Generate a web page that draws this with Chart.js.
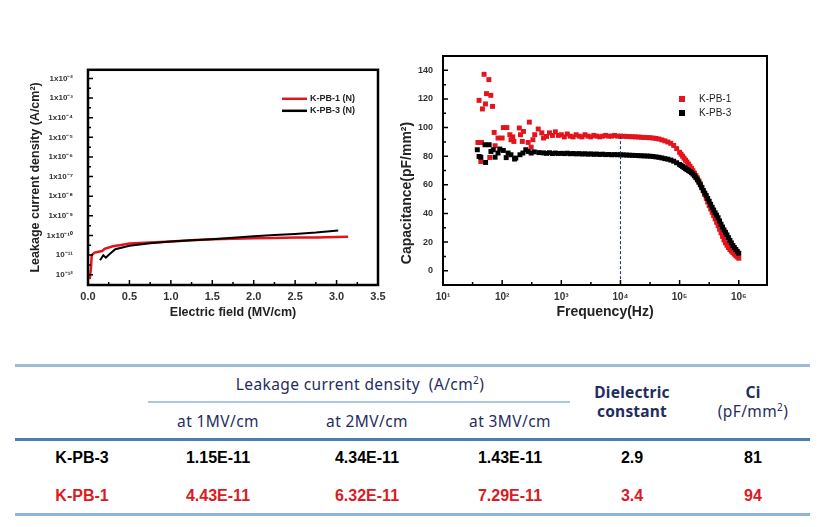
<!DOCTYPE html>
<html>
<head>
<meta charset="utf-8">
<script src="https://cdn.jsdelivr.net/npm/chart.js@4.4.0/dist/chart.umd.min.js"></script>
<style>
  body { margin: 0; background: #fff; width: 826px; height: 527px; position: relative; overflow: hidden; }
  canvas { position: absolute; }
  #leakChart { left: 0; top: 50px; }
  #capChart { left: 395px; top: 40px; }
  .rule { position: absolute; }
  .cell { position: absolute; transform: translate(-50%, -50%); white-space: nowrap; text-align: center; }
  .head { font-family: "Noto Sans", sans-serif; color: #1f2d5e; font-size: 15.5px; line-height: 19px; letter-spacing: 0.4px; }
  .head b { letter-spacing: 0.2px; }
  .val { font-family: Arial, "Liberation Sans", sans-serif; font-weight: bold; font-size: 16px; }
  sup { font-size: 10px; vertical-align: 6px; line-height: 0; }
</style>
</head>
<body>
<canvas id="leakChart" width="395" height="280"></canvas>
<canvas id="capChart" width="400" height="290"></canvas>
<div id="table"></div>
<script>
// ---- leakage current vs electric field ----
const fieldK1 = [0.02, 0.035, 0.045, 0.08, 0.17, 0.2, 0.3, 0.4, 0.5, 0.75, 1.0, 1.25, 1.5, 1.75, 2.0, 2.25, 2.5, 2.75, 3.0, 3.14];
const currentK1 = [6e-13, 2e-12, 1.0e-11, 1.35e-11, 1.6e-11, 2.1e-11, 2.8e-11, 3.3e-11, 3.9e-11, 4.4e-11, 4.9e-11, 5.7e-11, 6.4e-11, 6.9e-11, 7.2e-11, 7.5e-11, 7.8e-11, 8.0e-11, 8.4e-11, 8.7e-11];
const fieldK3 = [0.145, 0.185, 0.215, 0.265, 0.33, 0.5, 0.75, 1.0, 1.25, 1.5, 1.75, 2.0, 2.25, 2.5, 2.75, 3.02];
const currentK3 = [5.5e-12, 9.8e-12, 7.4e-12, 1.17e-11, 2.0e-11, 3.0e-11, 4.0e-11, 4.9e-11, 5.7e-11, 6.5e-11, 7.7e-11, 9.0e-11, 1.05e-10, 1.2e-10, 1.4e-10, 1.78e-10];
const leakTickValues = [1e-2, 1e-3, 1e-4, 1e-5, 1e-6, 1e-7, 1e-8, 1e-9, 1e-10, 1e-11, 1e-12];
const leakTickLabels = ['1x10⁻²', '1x10⁻³', '1x10⁻⁴', '1x10⁻⁵', '1x10⁻⁶', '1x10⁻⁷', '1x10⁻⁸', '1x10⁻⁹', '1x10⁻¹⁰', '10⁻¹¹', '10⁻¹²'];

// ---- capacitance vs frequency ----
const freqLowK1 = [38.9, 40.7, 41.7, 43.6, 44.7, 46.4, 49.5, 52.2, 54.3, 59.6, 61.7, 64.3, 68.7, 73.3, 75.9, 85.1, 100, 104.7, 120, 135, 141, 151, 158, 195, 204, 219, 229, 275, 288, 309, 331, 355, 407, 468];
const capLowK1 = [89.6, 119, 89.6, 76.3, 89.6, 113, 137.2, 116.5, 123.7, 133.5, 79.1, 122.5, 114.8, 96.6, 87.3, 92.7, 92.7, 100, 100, 95, 91.5, 93.5, 90.3, 99.7, 95, 90.3, 97.3, 89.6, 103.8, 86.3, 91.5, 95, 99, 96.3];
const freqLowK3 = [38, 40.7, 43.6, 51.3, 52.5, 60.3, 64.6, 70.8, 75.9, 85.1, 91.2, 104.7, 117, 126, 141, 162, 170, 200, 224, 251, 275, 309, 350, 420];
const capLowK3 = [84.5, 79.8, 79.3, 88, 75.6, 88, 83.3, 84.5, 79.3, 82.2, 85, 84, 79, 82.2, 81, 78, 78.7, 81, 82.2, 84.5, 83.3, 82.2, 83, 82.5];
const freqGrid = [501, 562, 631, 708, 794, 891, 1000, 1122, 1259, 1413, 1585, 1778, 1995, 2239, 2512, 2818, 3162, 3548, 3981, 4467, 5012, 5623, 6310, 7079, 7943, 8913,
  10000, 11220, 12589, 14125, 15849, 17783, 19953, 22387, 25119, 28184, 31623, 35481, 39811, 44668, 50119, 56234, 63096, 70795, 79433, 89125,
  100000, 112202, 125893, 141254, 158489, 177828, 199526, 223872, 251189, 281838, 316228, 354813, 398107, 446684, 501187, 562341, 630957, 707946, 794328, 891251, 1000000];
const capGridK1 = [92.7, 93.8, 96.3, 94.5, 97, 94.5, 95, 93.5, 95.5, 94, 93.5, 95, 94, 93.5, 95, 94, 93.5, 94.5, 94, 93.5, 94, 94.5, 94, 94, 94.5, 94,
  94, 93.9, 93.8, 93.7, 93.6, 93.5, 93.4, 93.2, 93.1, 93, 92.9, 92.7, 92.4, 92, 91.4, 90.7, 89.9, 89, 87.5, 85.3,
  82.7, 80, 77.2, 74.5, 71.5, 68.2, 64.8, 60.7, 55.8, 50.5, 45.5, 40.8, 36.2, 31.5, 26.5, 21.5, 17.8, 14.8, 12.7, 10.5, 8.7];
const capGridK3 = [82.3, 82, 82.4, 81.8, 82.2, 81.9, 82, 81.8, 82.1, 81.7, 81.9, 81.6, 81.8, 81.5, 81.7, 81.4, 81.6, 81.3, 81.5, 81.2, 81.4, 81.1, 81.2, 81, 81.1, 81,
  81, 80.9, 80.8, 80.7, 80.6, 80.5, 80.4, 80.3, 80.2, 80.1, 80, 79.8, 79.5, 79.2, 78.8, 78.3, 77.9, 77.3, 76.5, 75.4,
  74.2, 72.8, 71.3, 70, 68.5, 66.3, 63.5, 60, 56, 52.5, 48.5, 44.3, 40.5, 37, 32.5, 28.5, 25, 21.2, 17.6, 14.8, 12.2];
// extra readings on the steep roll-off
const freqSteep = [105925, 118850, 133352, 149624, 167880, 188365, 211349, 237137, 266073, 298538, 334965, 375837, 421697, 473151, 530884, 595662, 668344, 749894, 841395, 944061];
const capSteepK1 = [81.4, 78.6, 75.9, 73, 69.9, 66.5, 62.8, 58.3, 53.2, 48, 43.1, 38.5, 33.8, 29, 24, 19.5, 16.2, 13.7, 11.6, 9.6];
const capSteepK3 = [73.5, 72, 70.6, 69.3, 67.5, 65, 61.8, 58, 54.2, 50.5, 46.4, 42.4, 38.8, 34.8, 30.5, 26.8, 23.1, 19.4, 16.2, 13.5];
const markerFreq = [1e4, 1e4];
const markerCap = [94, -10];
const freqTickValues = [1e1, 1e2, 1e3, 1e4, 1e5, 1e6];
const freqTickLabels = ['10¹', '10²', '10³', '10⁴', '10⁵', '10⁶'];
const capTickValues = [0, 20, 40, 60, 80, 100, 120, 140];

// ---- table ----
const sampleNames = ['K-PB-3', 'K-PB-1'];
const leakAt1MV = [1.15e-11, 4.43e-11];
const leakAt2MV = [4.34e-11, 6.32e-11];
const leakAt3MV = [1.43e-11, 7.29e-11];
const dielectricConst = [2.9, 3.4];
const ciValues = [81, 94];

const RED = '#e3141b';
const FONT = 'Arial, "Liberation Sans", sans-serif';
Chart.defaults.font.family = FONT;
Chart.defaults.color = '#222';

const pts = (xs, ys) => xs.map((x, i) => ({ x: x, y: ys[i] }));

// box frame, inward ticks, legend and an optional hand-placed y title
const frameTicks = {
  id: 'frameTicks',
  afterDatasetsDraw(chart, args, opts) {
    const { ctx, chartArea: a, scales } = chart;
    ctx.save();
    ctx.strokeStyle = '#000';
    ctx.lineWidth = 1.5;
    ctx.beginPath();
    ['x', 'y'].forEach(id => {
      const s = scales[id];
      const vals = s.ticks.map(t => t.value);
      const log = s.type === 'logarithmic';
      vals.forEach((v, i) => {
        const p = s.getPixelForValue(v);
        const n = vals[i + 1];
        const m = n === undefined ? null : (log ? Math.sqrt(v * n) : (v + n) / 2);
        const mp = m === null ? null : s.getPixelForValue(m);
        if (id === 'x') {
          ctx.moveTo(p, a.bottom); ctx.lineTo(p, a.bottom - 5);
          if (mp !== null) { ctx.moveTo(mp, a.bottom); ctx.lineTo(mp, a.bottom - 3); }
        } else {
          ctx.moveTo(a.left, p); ctx.lineTo(a.left + 5, p);
          if (mp !== null) { ctx.moveTo(a.left, mp); ctx.lineTo(a.left + 3, mp); }
        }
      });
    });
    ctx.stroke();
    ctx.lineWidth = opts.frame;
    ctx.strokeRect(a.left, a.top, a.right - a.left, a.bottom - a.top);

    // legend
    const lg = opts.legend;
    ctx.font = lg.font;
    ctx.textBaseline = 'middle';
    ctx.textAlign = 'left';
    chart.data.datasets.filter(d => d.label).forEach((d, i) => {
      const y = a.top + lg.y + i * lg.step;
      const x = a.left + lg.x;
      if (lg.kind === 'line') {
        ctx.strokeStyle = d.borderColor;
        ctx.lineWidth = 2.5;
        ctx.beginPath(); ctx.moveTo(x, y); ctx.lineTo(x + 25, y); ctx.stroke();
      } else {
        ctx.fillStyle = d.backgroundColor;
        ctx.fillRect(x - 3, y - 3, 6, 6);
      }
      ctx.fillStyle = '#222';
      ctx.fillText(d.label, x + lg.tx, y);
    });

    if (opts.yTitle) {
      const t = opts.yTitle;
      ctx.translate(t.x, t.y);
      ctx.rotate(-Math.PI / 2);
      ctx.font = t.font;
      ctx.textAlign = 'center';
      ctx.fillStyle = '#222';
      ctx.fillText(t.text, 0, 0);
    }
    ctx.restore();
  }
};

new Chart(document.getElementById('leakChart'), {
  type: 'scatter',
  data: {
    datasets: [
      { label: 'K-PB-1 (N)', data: pts(fieldK1, currentK1), showLine: true, borderColor: RED, backgroundColor: RED, borderWidth: 2.5, pointRadius: 0, order: 2 },
      { label: 'K-PB-3 (N)', data: pts(fieldK3, currentK3), showLine: true, borderColor: '#000', backgroundColor: '#000', borderWidth: 2, pointRadius: 0, order: 1 }
    ]
  },
  options: {
    responsive: false,
    animation: false,
    layout: { padding: { top: 13, right: 17, left: 0, bottom: 0 } },
    plugins: {
      legend: { display: false },
      tooltip: { enabled: false },
      frameTicks: { frame: 2.5, legend: { kind: 'line', x: 194, y: 29, step: 12, tx: 28, font: 'bold 9px ' + FONT } }
    },
    scales: {
      x: {
        type: 'linear', min: 0, max: 3.5,
        ticks: { stepSize: 0.5, callback: v => v.toFixed(1), font: { size: 11, weight: 'bold' }, padding: 5, color: '#333' },
        grid: { display: false, drawTicks: false },
        border: { display: false },
        title: { display: true, text: 'Electric field (MV/cm)', font: { size: 12.5, weight: 'bold' }, padding: { bottom: 10 }, color: '#222' },
        afterFit: s => { s.height = 45; }
      },
      y: {
        type: 'logarithmic', min: 3.2e-13, max: 2.75e-2,
        afterBuildTicks: s => { s.ticks = leakTickValues.map(v => ({ value: v })); },
        ticks: { callback: v => leakTickLabels[leakTickValues.findIndex(t => Math.abs(Math.log10(t) - Math.log10(v)) < 0.01)], font: { size: 8, weight: 'bold' }, padding: 15, color: '#333', autoSkip: false },
        grid: { display: false, drawTicks: false },
        border: { display: false },
        title: { display: true, text: 'Leakage current density (A/cm²)', font: { size: 12.5, weight: 'bold' }, padding: { top: 28 }, color: '#222' },
        afterFit: s => { s.width = 88; }
      }
    }
  },
  plugins: [frameTicks]
});

new Chart(document.getElementById('capChart'), {
  type: 'scatter',
  data: {
    datasets: [
      { label: 'K-PB-1', data: pts(freqLowK1.concat(freqGrid, freqSteep), capLowK1.concat(capGridK1, capSteepK1)), backgroundColor: RED, borderColor: RED, pointStyle: 'rect', pointRadius: 3.5, pointBorderWidth: 0, order: 3 },
      { label: 'K-PB-3', data: pts(freqLowK3.concat(freqGrid, freqSteep), capLowK3.concat(capGridK3, capSteepK3)), backgroundColor: '#000', borderColor: '#000', pointStyle: 'rect', pointRadius: 3.5, pointBorderWidth: 0, order: 2 },
      { data: pts(markerFreq, markerCap), showLine: true, borderColor: '#1b2a6b', borderWidth: 1, borderDash: [3, 2], pointRadius: 0, order: 1 }
    ]
  },
  options: {
    responsive: false,
    animation: false,
    layout: { padding: { top: 16, right: 28, left: 0, bottom: 0 } },
    plugins: {
      legend: { display: false },
      tooltip: { enabled: false },
      frameTicks: {
        frame: 2,
        legend: { kind: 'rect', x: 239, y: 43, step: 14, tx: 17, font: '10px ' + FONT },
        yTitle: { text: 'Capacitance(pF/mm²)', x: 12, y: 153, font: 'bold 14px ' + FONT }
      }
    },
    scales: {
      x: {
        type: 'logarithmic', min: 10, max: 3.0e6,
        afterBuildTicks: s => { s.ticks = freqTickValues.map(v => ({ value: v })); },
        ticks: { callback: v => freqTickLabels[freqTickValues.findIndex(t => Math.abs(Math.log10(t) - Math.log10(v)) < 0.01)], font: { size: 10, weight: 'bold' }, padding: 6, color: '#333', autoSkip: false, maxRotation: 0 },
        grid: { display: false, drawTicks: false },
        border: { display: false },
        title: { display: true, text: 'Frequency(Hz)', font: { size: 14, weight: 'bold' }, padding: { bottom: 9 }, color: '#222' },
        afterFit: s => { s.height = 45; }
      },
      y: {
        type: 'linear', min: -10, max: 150,
        afterBuildTicks: s => { s.ticks = capTickValues.map(v => ({ value: v })); },
        ticks: { font: { size: 9, weight: 'bold' }, padding: 10, color: '#333' },
        grid: { display: false, drawTicks: false },
        border: { display: false },
        afterFit: s => { s.width = 48; }
      }
    }
  },
  plugins: [frameTicks]
});

// ---- table (HTML text) ----
const table = document.getElementById('table');
function rule(x, y, w, h, color) {
  const d = document.createElement('div');
  d.className = 'rule';
  d.style.cssText = `left:${x}px;top:${y}px;width:${w}px;height:${h}px;background:${color}`;
  table.appendChild(d);
}
function cell(x, y, html, cls, color) {
  const d = document.createElement('div');
  d.className = 'cell ' + cls;
  d.style.left = x + 'px';
  d.style.top = y + 'px';
  if (color) d.style.color = color;
  d.innerHTML = html;
  table.appendChild(d);
}
rule(15, 364, 795, 3, '#9dbbd6');
rule(148, 401, 422, 2, '#a9c8e4');
rule(15, 438, 795, 3, '#4d7eae');
rule(15, 513, 795, 3, '#8db6da');

const colX = [82, 218, 367, 510, 632, 753];
cell(360, 384, 'Leakage current density&nbsp; (A/cm<sup>2</sup>)', 'head');
['at 1MV/cm', 'at 2MV/cm', 'at 3MV/cm'].forEach((t, i) => cell(colX[i + 1], 421, t, 'head'));
cell(colX[4], 402, '<b>Dielectric<br>constant</b>', 'head');
cell(colX[5], 402, '<b>Ci</b><br>(pF/mm<sup>2</sup>)', 'head');
const rowY = [458, 496];
const rowColor = ['#000', '#dc1a22'];
const fmt = v => v.toExponential(2).toUpperCase();
sampleNames.forEach((name, r) => {
  const vals = [name, fmt(leakAt1MV[r]), fmt(leakAt2MV[r]), fmt(leakAt3MV[r]), dielectricConst[r].toFixed(1), String(ciValues[r])];
  vals.forEach((v, c) => cell(colX[c], rowY[r], v, 'val', rowColor[r]));
});
</script>
</body>
</html>
